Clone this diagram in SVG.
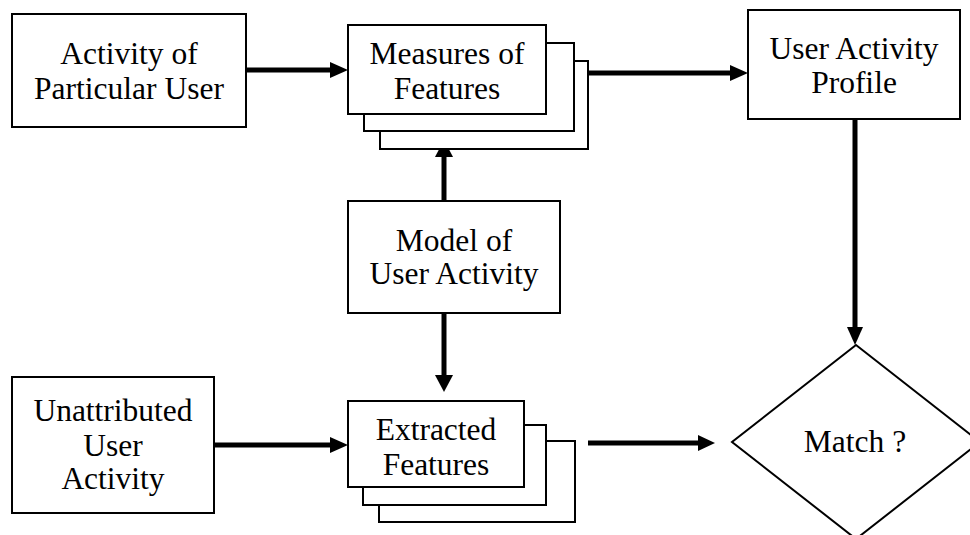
<svg xmlns="http://www.w3.org/2000/svg" width="970" height="535" viewBox="0 0 970 535">
<style>
.box{fill:#fff;stroke:#000;stroke-width:2}
.ln{stroke:#000;stroke-width:5;fill:none}
.hd{fill:#000}
text{font-family:"Liberation Serif","Times New Roman",serif;font-size:31.5px;fill:#000;text-anchor:middle}
</style>
<rect width="970" height="535" fill="#fff"/>
<g id="connectors">
<line class="ln" x1="246" y1="70" x2="332" y2="70"/>
<polygon class="hd" points="330,62 348,70 330,78"/>
<line class="ln" x1="588" y1="73" x2="732" y2="73"/>
<polygon class="hd" points="730,65 748,73 730,81"/>
<line class="ln" x1="855" y1="119" x2="855" y2="329"/>
<polygon class="hd" points="847,327 855,345 863,327"/>
<line class="ln" x1="444" y1="201" x2="444" y2="155"/>
<polygon class="hd" points="435,157 444,140 453,157"/>
<line class="ln" x1="444" y1="313" x2="444" y2="377"/>
<polygon class="hd" points="435,375 444,392 453,375"/>
<line class="ln" x1="214" y1="445" x2="332" y2="445"/>
<polygon class="hd" points="330,437 348,445 330,453"/>
<line class="ln" x1="588" y1="443" x2="700" y2="443"/>
<polygon class="hd" points="698,435 715,443 698,451"/>
</g>
<g id="activity-particular-user">
<rect class="box" x="12" y="14" width="234" height="113"/>
<text x="129" y="64">Activity of</text>
<text x="129" y="99">Particular User</text>
</g>
<g id="measures-of-features">
<rect class="box" x="380" y="61" width="208" height="88"/>
<rect class="box" x="364" y="43" width="210" height="88"/>
<rect class="box" x="348" y="25" width="198" height="89"/>
<text x="447" y="64">Measures of</text>
<text x="447" y="99">Features</text>
</g>
<g id="user-activity-profile">
<rect class="box" x="748" y="10" width="212" height="109"/>
<text x="854" y="59">User Activity</text>
<text x="854" y="93">Profile</text>
</g>
<g id="model-of-user-activity">
<rect class="box" x="348" y="201" width="212" height="112"/>
<text x="454" y="251">Model of</text>
<text x="454" y="284">User Activity</text>
</g>
<g id="unattributed-user-activity">
<rect class="box" x="12" y="377" width="202" height="136"/>
<text x="113" y="421">Unattributed</text>
<text x="113" y="456">User</text>
<text x="113" y="489">Activity</text>
</g>
<g id="extracted-features">
<rect class="box" x="379" y="441" width="196" height="81"/>
<rect class="box" x="363" y="425" width="183" height="80"/>
<rect class="box" x="348" y="401" width="176" height="86"/>
<text x="436" y="440">Extracted</text>
<text x="436" y="475">Features</text>
</g>
<g id="match">
<polygon class="box" points="856,345 980,442 856,539 732,442"/>
<text x="855" y="452">Match ?</text>
</g>
</svg>
